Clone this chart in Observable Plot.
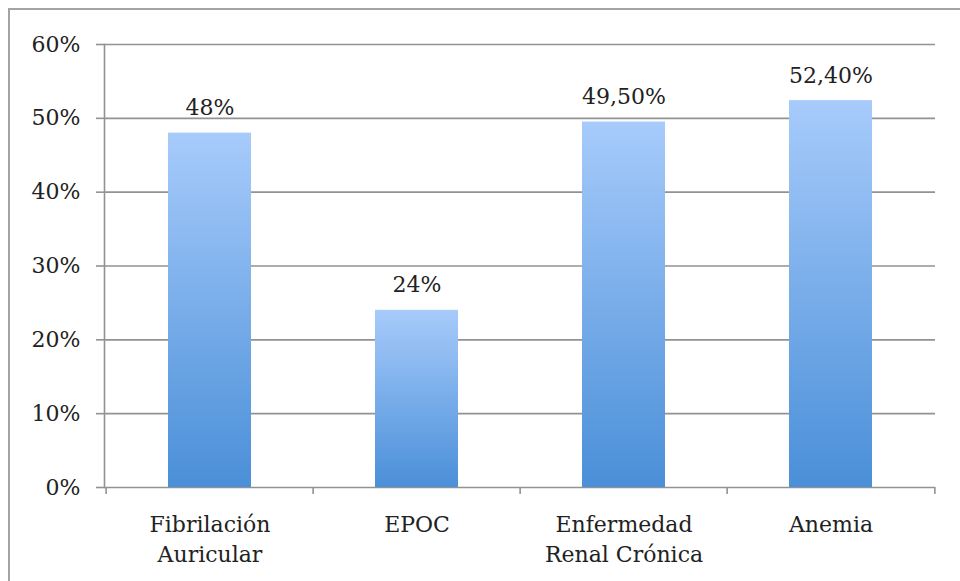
<!DOCTYPE html>
<html>
<head>
<meta charset="utf-8">
<script src="https://cdn.jsdelivr.net/npm/d3@7"></script>
<script src="https://cdn.jsdelivr.net/npm/@observablehq/plot@0.6"></script>
<style>
  html, body { margin: 0; padding: 0; background: #fff; }
  #wrap { position: relative; width: 960px; height: 581px; overflow: hidden; }
  #border { position: absolute; left: 8px; top: 8px; width: 1200px; height: 1200px; border: 2px solid #a3a3a3; box-sizing: border-box; }
  #chart { position: absolute; left: 0; top: 0; }
</style>
</head>
<body>
<div id="wrap"><div id="border"></div><div id="chart"></div></div>
<script>
const categories = ["Fibrilación\nAuricular", "EPOC", "Enfermedad\nRenal Crónica", "Anemia"];
const values = [0.48, 0.24, 0.495, 0.524];
const valueLabels = ["48%", "24%", "49,50%", "52,40%"];
const yTicks = [0, 0.1, 0.2, 0.3, 0.4, 0.5, 0.6];

const data = categories.map((c, i) => ({cat: c, value: values[i], label: valueLabels[i]}));

const W = 960, H = 581, mL = 104, mR = 25, mT = 44, mB = 94;
const step = (W - mL - mR) / categories.length;
const grey = "#929292";
const font = "DejaVu Serif";

const plot = Plot.plot({
  width: W, height: H,
  marginLeft: mL, marginRight: mR, marginTop: mT, marginBottom: mB,
  style: {fontFamily: font, fontSize: "22px", color: "#222", background: "transparent", overflow: "visible"},
  x: {domain: categories, paddingInner: 0.6, paddingOuter: 0.3, label: null},
  y: {domain: [0, 0.6], label: null},
  marks: [
    Plot.ruleY(yTicks, {stroke: grey, strokeWidth: 1.6}),
    Plot.frame({anchor: "left", stroke: grey, strokeWidth: 1.6}),
    Plot.axisY({ticks: yTicks, tickFormat: d3.format(".0%"), tickSize: 8, tickPadding: 16, stroke: grey, strokeWidth: 1.6, fill: "#222", fontSize: 22, label: null}),
    Plot.axisX({tickSize: 0, tickPadding: 24, lineHeight: 1.33, fill: "#222", fontSize: 22, label: null}),
    Plot.axisX({tickSize: 7, dx: -step / 2, text: null, stroke: grey, strokeWidth: 1.6}),
    Plot.axisX({ticks: [categories[categories.length - 1]], tickSize: 7, dx: step / 2, text: null, stroke: grey, strokeWidth: 1.6}),
    Plot.barY(data, {x: "cat", y: "value", fill: "url(#barGrad)", style: "filter: drop-shadow(0px 0px 2px rgba(0,0,0,0.25))"}),
    Plot.text(data, {x: "cat", y: "value", text: "label", lineAnchor: "bottom", dy: -18, fontSize: 22, fill: "#222"})
  ]
});

const ns = "http://www.w3.org/2000/svg";
const defs = document.createElementNS(ns, "defs");
defs.innerHTML = `<linearGradient id="barGrad" x1="0" y1="0" x2="0" y2="1">
  <stop offset="0%" stop-color="#a7cbfb"/>
  <stop offset="100%" stop-color="#4a8fd8"/>
</linearGradient>`;
plot.insertBefore(defs, plot.firstChild);
document.getElementById("chart").appendChild(plot);
</script>
</body>
</html>
